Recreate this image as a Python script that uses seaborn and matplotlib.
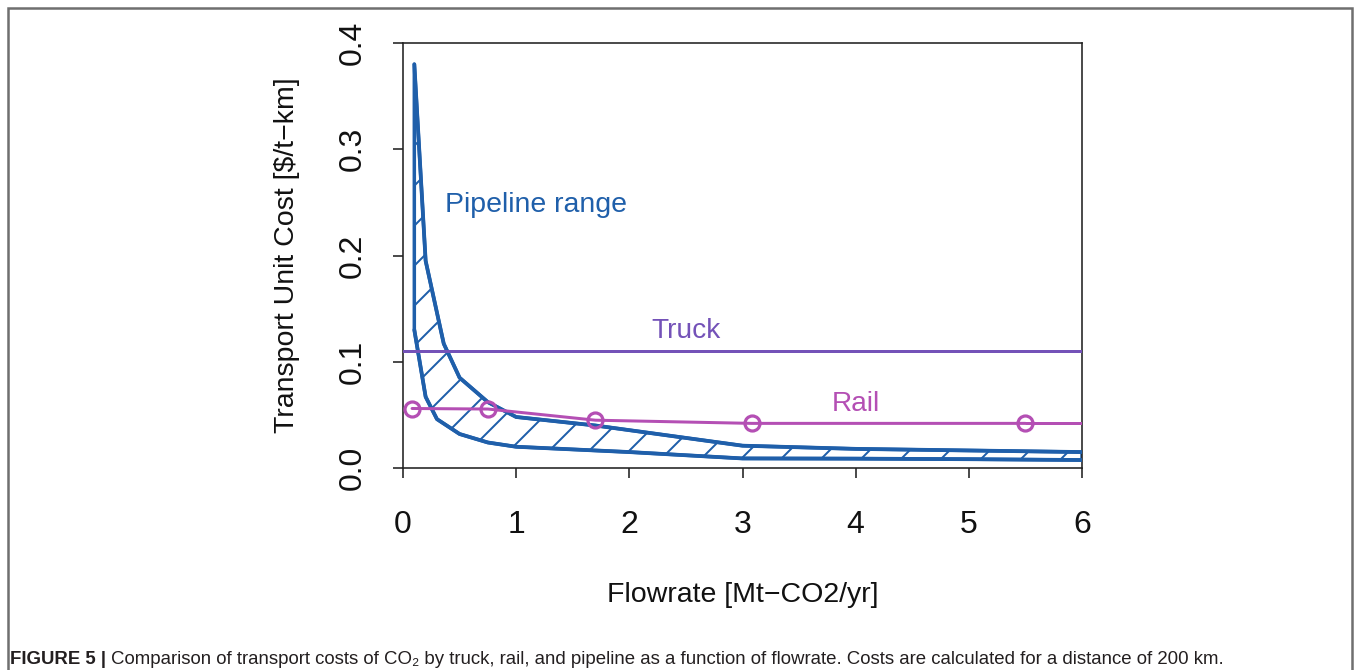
import matplotlib
matplotlib.use("Agg")
import matplotlib.pyplot as plt
import seaborn as sns
from matplotlib.patches import Rectangle

# ---------------- data ----------------
pipe_upper_x = [0.1, 0.2, 0.36, 0.5, 0.75, 1.0, 1.7, 3.0, 4.0, 5.0, 6.0]
pipe_upper_y = [0.38, 0.195, 0.117, 0.085, 0.062, 0.048, 0.040, 0.021, 0.018, 0.0165, 0.015]
pipe_lower_x = [0.1, 0.2, 0.3, 0.5, 0.75, 1.0, 2.0, 3.0, 4.0, 5.0, 6.0]
pipe_lower_y = [0.13, 0.067, 0.046, 0.032, 0.024, 0.020, 0.015, 0.009, 0.0088, 0.0083, 0.0075]
rail_x = [0.08, 0.75, 1.7, 3.08, 5.5]
rail_y = [0.056, 0.0555, 0.045, 0.042, 0.042]
truck_cost = 0.11
x_ticks = [0, 1, 2, 3, 4, 5, 6]
x_ticklabels = ["0", "1", "2", "3", "4", "5", "6"]
y_ticks = [0.0, 0.1, 0.2, 0.3, 0.4]
y_ticklabels = ["0.0", "0.1", "0.2", "0.3", "0.4"]

BLUE = "#1f5faa"
PURPLE = "#7452b8"
MAGENTA = "#b44fb4"

DPI = 240
def pt(px):
    return px * 72.0 / DPI

sns.set_theme(style="ticks")
plt.rcParams["font.family"] = ["Liberation Sans", "DejaVu Sans"]
plt.rcParams["hatch.linewidth"] = pt(2.0)
plt.rcParams["axes.unicode_minus"] = True

W, H = 1360, 670
fig = plt.figure(figsize=(W / DPI, H / DPI), dpi=DPI)
fig.patch.set_facecolor("white")
L, R, T, B = 403, 1082, 43, 468
ax = fig.add_axes([L / W, 1 - B / H, (R - L) / W, (B - T) / H])
ax.set_facecolor("white")

# pipeline range polygon (hatched)
poly_x = pipe_upper_x + pipe_lower_x[::-1]
poly_y = pipe_upper_y + pipe_lower_y[::-1]
ax.fill(poly_x, poly_y, facecolor="none", edgecolor=BLUE, hatch="//",
        linewidth=pt(3.5), joinstyle="round", zorder=2)
sns.lineplot(x=pipe_upper_x, y=pipe_upper_y, ax=ax, color=BLUE, lw=pt(3.8), zorder=3)
sns.lineplot(x=pipe_lower_x, y=pipe_lower_y, ax=ax, color=BLUE, lw=pt(3.8), zorder=3)

# truck
ax.axhline(truck_cost, color=PURPLE, lw=pt(3), zorder=3)

# rail
sns.lineplot(x=rail_x, y=rail_y, ax=ax, color=MAGENTA, lw=pt(3), marker="o",
             markersize=pt(15), markerfacecolor="none", markeredgecolor=MAGENTA,
             markeredgewidth=pt(3.2), zorder=4)
ax.hlines(rail_y[-1], rail_x[-1], x_ticks[-1], color=MAGENTA, lw=pt(3), zorder=4)

# annotations
ax.text(0.37, 0.248, "Pipeline range", color=BLUE, fontsize=pt(28.5), ha="left", va="center")
ax.text(2.5, 0.1286, "Truck", color=PURPLE, fontsize=pt(28), ha="center", va="center")
ax.text(4.0, 0.0607, "Rail", color=MAGENTA, fontsize=pt(28), ha="center", va="center")

ax.set_xlim(0, 6)
ax.set_ylim(0, 0.4)
ax.set_xticks(x_ticks, x_ticklabels)
ax.set_yticks(y_ticks, y_ticklabels)
ax.tick_params(axis="both", direction="out", length=pt(10), width=pt(1.6),
               colors="#222222", labelsize=pt(32), labelcolor="#111111", pad=pt(32))
for lab in ax.get_yticklabels():
    lab.set_rotation(90)
    lab.set_va("center")
    lab.set_ha("center")
ax.tick_params(axis="y", pad=pt(40))
for s in ax.spines.values():
    s.set_visible(True)
    s.set_linewidth(pt(1.6))
    s.set_color("#222222")

ax.set_xlabel("Flowrate [Mt\u2212CO2/yr]", fontsize=pt(28.5), color="#111111", labelpad=pt(42))
ax.set_ylabel("Transport Unit Cost [$/t\u2212km]", fontsize=pt(28.5), color="#111111", labelpad=pt(38))

# figure frame (open at the bottom, like the cropped page)
fig.add_artist(Rectangle((8 / W, -0.2), (1352 - 8) / W, 1.2 - 8 / H,
                         transform=fig.transFigure, fill=False,
                         edgecolor="#6f6f6f", lw=pt(2.5), zorder=10))

# caption
t1 = fig.text(10 / W, 1 - 664 / H, "FIGURE 5 |", fontsize=pt(18.6), fontweight="bold",
              color="#231f20", ha="left", va="baseline")
ax.annotate("Comparison of transport costs of CO\u2082 by truck, rail, and pipeline as a function "
            "of flowrate. Costs are calculated for a distance of 200 km.",
            xy=(1, 0), xycoords=t1, xytext=(pt(5), 0), textcoords="offset points",
            fontsize=pt(18.6), color="#231f20", ha="left", va="bottom",
            annotation_clip=False)

fig.savefig("out.png", dpi=DPI, facecolor="white")
